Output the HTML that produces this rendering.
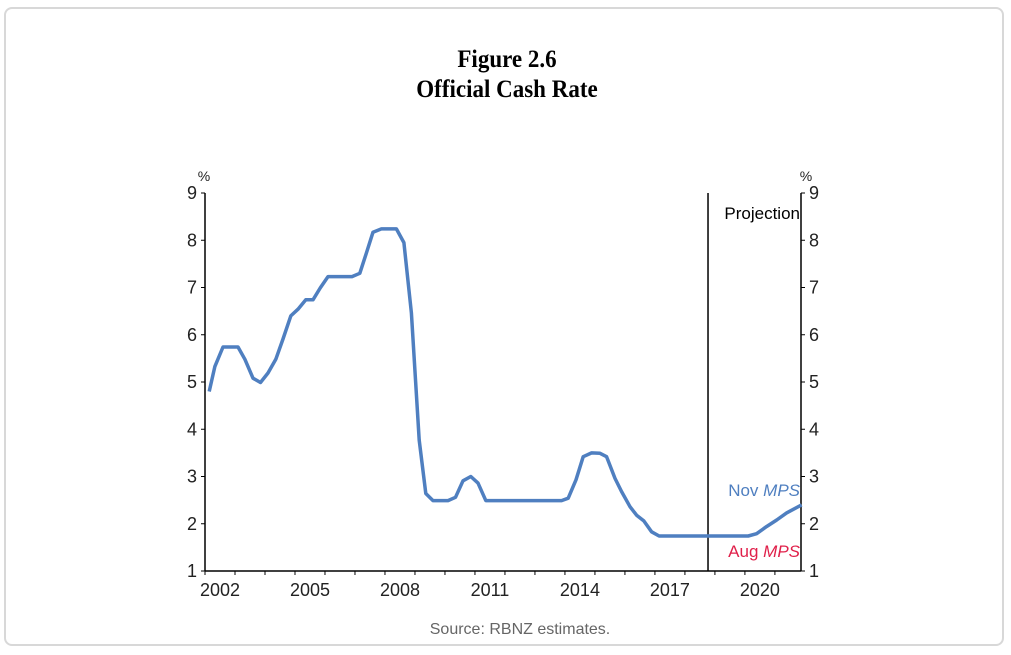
<!DOCTYPE html>
<html><head><meta charset="utf-8"><style>
html,body{margin:0;padding:0;background:#fff;width:1011px;height:655px;overflow:hidden}
#frame{position:absolute;left:4px;top:7px;width:1000px;height:639px;border:2px solid #d8d8d8;border-radius:8px;box-sizing:border-box}
.t{position:absolute;left:0;width:1014px;text-align:center;font-family:"Liberation Serif",serif;font-weight:bold;font-size:25px;color:#000;transform:scaleX(0.92)}
</style></head><body>
<div id="frame"></div>
<div class="t" style="top:46px">Figure 2.6</div>
<div class="t" style="top:76px">Official Cash Rate</div>
<svg id="c" width="1011" height="655" style="position:absolute;left:0;top:0"></svg>
<script>
const times=[2002.14,2002.33,2002.6,2003.1,2003.33,2003.6,2003.85,2004.1,2004.36,2004.6,2004.86,2005.1,2005.36,2005.6,2005.84,2006.1,2006.9,2007.16,2007.38,2007.6,2007.88,2008.38,2008.63,2008.88,2009.14,2009.36,2009.6,2010.1,2010.35,2010.6,2010.86,2011.1,2011.36,2013.89,2014.11,2014.37,2014.61,2014.89,2015.17,2015.39,2015.67,2015.89,2016.17,2016.39,2016.63,2016.89,2017.14,2020.11,2020.39,2020.72,2021.06,2021.39,2021.89];
const rates=[4.8,5.33,5.74,5.74,5.48,5.08,4.99,5.19,5.48,5.91,6.4,6.54,6.74,6.74,6.99,7.23,7.23,7.3,7.73,8.17,8.24,8.24,7.95,6.46,3.77,2.64,2.49,2.49,2.56,2.91,3.0,2.86,2.49,2.49,2.54,2.93,3.42,3.5,3.49,3.42,2.96,2.68,2.36,2.18,2.06,1.83,1.74,1.74,1.79,1.94,2.08,2.23,2.4];
const yTicks=[1,2,3,4,5,6,7,8,9];
const xLabels=[2002,2005,2008,2011,2014,2017,2020];
const projectionStart=2018.77;
const X0=205,X1=801,Y0=571,Y1=193,T0=2002,T1=2021.87;
const xs=t=>X0+(t-T0)*(X1-X0)/(T1-T0);
const ys=v=>Y0-(v-1)*(Y0-Y1)/8;
const svg=document.getElementById('c');const NS='http://www.w3.org/2000/svg';
function mk(tag,at,txt){const e=document.createElementNS(NS,tag);for(const k in at)e.setAttribute(k,at[k]);if(txt!=null)e.textContent=txt;svg.appendChild(e);return e;}
const F='"Liberation Sans",Arial,sans-serif';
let e;
e=mk('line',{x1:X0,y1:Y1,x2:X0,y2:Y0,stroke:'#000','stroke-width':1.5});

e=mk('line',{x1:X1,y1:Y1,x2:X1,y2:Y0,stroke:'#000','stroke-width':1.5});

e=mk('line',{x1:X0,y1:Y0,x2:X1,y2:Y0,stroke:'#000','stroke-width':1.5});

yTicks.forEach(v=>{const y=ys(v);
 mk('line',{x1:X0-4,y1:y,x2:X0,y2:y,stroke:'#000'});
 mk('line',{x1:X1,y1:y,x2:X1+4,y2:y,stroke:'#000'});
 e=mk('text',{x:X0-8,y:y+6,'text-anchor':'end','font-family':F,'font-size':18,fill:'#222'},v);
 
 e=mk('text',{x:X1+8,y:y+6,'text-anchor':'start','font-family':F,'font-size':18,fill:'#222'},v);
 
});
for(let yr=2002;yr<=2021;yr++){mk('line',{x1:xs(yr),y1:Y0,x2:xs(yr),y2:Y0+4,stroke:'#000'});}
xLabels.forEach(yr=>{e=mk('text',{x:xs(yr+0.5),y:Y0+25,'text-anchor':'middle','font-family':F,'font-size':18,fill:'#222'},yr);
 });
e=mk('text',{x:X0-1,y:181,'text-anchor':'middle','font-family':F,'font-size':14,fill:'#222'},'%');

e=mk('text',{x:X1+5,y:181,'text-anchor':'middle','font-family':F,'font-size':14,fill:'#222'},'%');

e=mk('line',{x1:xs(projectionStart),y1:Y1,x2:xs(projectionStart),y2:Y0,stroke:'#000','stroke-width':1.5});

e=mk('text',{x:X1-1,y:219,'text-anchor':'end','font-family':F,'font-size':17,fill:'#000'},'Projection');

const pts=times.map((t,i)=>xs(t).toFixed(1)+','+ys(rates[i]).toFixed(1)).join(' ');
e=mk('polyline',{points:pts,fill:'none',stroke:'#4f7fc0','stroke-width':3.5,'stroke-linejoin':'round'});

e=mk('text',{x:X1-1,y:496,'text-anchor':'end','font-family':F,'font-size':17,fill:'#4f7fc0'});
e.innerHTML='Nov <tspan font-style="italic">MPS</tspan>';

e=mk('text',{x:X1-1,y:557,'text-anchor':'end','font-family':F,'font-size':17,fill:'#e0204a'});
e.innerHTML='Aug <tspan font-style="italic">MPS</tspan>';

e=mk('text',{x:520,y:634,'text-anchor':'middle','font-family':F,'font-size':16,fill:'#666'},'Source: RBNZ estimates.');

</script>
</body></html>
